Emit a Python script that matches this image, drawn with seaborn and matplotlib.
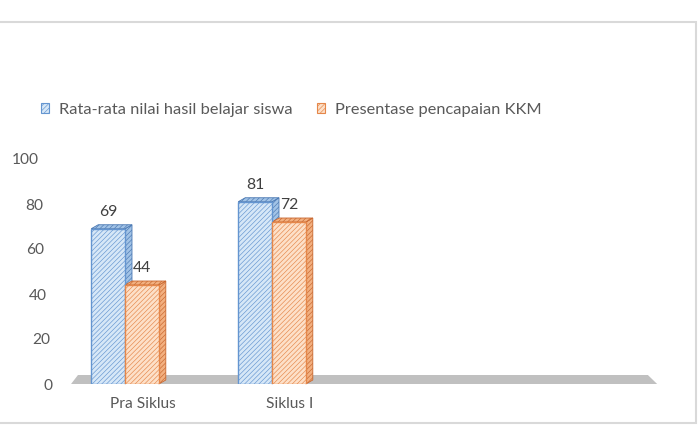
import numpy as np
import pandas as pd
import matplotlib
matplotlib.use("Agg")
import matplotlib.pyplot as plt
import matplotlib.transforms as mtransforms
from matplotlib.patches import Polygon, Patch, Rectangle
import seaborn as sns

# ---- data ----
categories = ["Pra Siklus", "Siklus I", "", " "]
series_names = ["Rata-rata nilai hasil belajar siswa", "Presentase pencapaian KKM"]
rata_rata = [69, 81]
presentase = [44, 72]
y_ticks = [0, 20, 40, 60, 80, 100]

sns.set_theme(style="white")
plt.rcParams['font.family'] = ['Lato', 'DejaVu Sans']
plt.rcParams['hatch.linewidth'] = 0.45

df = pd.DataFrame({
    "Kategori": categories[:2] * 2,
    "Seri": [series_names[0]] * 2 + [series_names[1]] * 2,
    "Nilai": rata_rata + presentase,
})

W, H = 700, 426
fig = plt.figure(figsize=(7, 4.26), dpi=100)
ax = fig.add_axes([51.5 / W, 42 / H, 588 / W, 225 / H])

face = {series_names[0]: "#d6e7f7", series_names[1]: "#fde0c8"}
edge = {series_names[0]: "#6495d0", series_names[1]: "#e5874a"}
side_face = {series_names[0]: "#a2c3e6", series_names[1]: "#f2b080"}
side_edge = {series_names[0]: "#4a78b3", series_names[1]: "#c8662e"}
text_color = "#595959"
HATCH = "///////"

sns.barplot(data=df, x="Kategori", y="Nilai", hue="Seri", order=categories,
            hue_order=series_names, palette=face, width=0.46, ax=ax,
            legend=False, saturation=1, zorder=3)

ax.set_xlim(-0.5, 3.5)
ax.set_ylim(0, 100)

px_x = 147.0          # pixels per category
px_y = 2.25           # pixels per value unit
dx = 7 / px_x
dy = 4 / px_y

for cont, name in zip(ax.containers, series_names):
    for bar in cont:
        h = bar.get_height()
        if not np.isfinite(h) or h == 0:
            continue
        x0 = bar.get_x()
        x1 = x0 + bar.get_width()
        bar.set_hatch(HATCH)
        bar.set_edgecolor(edge[name])
        bar.set_linewidth(1.0)
        side = Polygon([(x1, 0), (x1 + dx, dy), (x1 + dx, h + dy), (x1, h)],
                       closed=True, facecolor=side_face[name],
                       edgecolor=side_edge[name], hatch=HATCH, lw=0.6,
                       zorder=2.5, clip_on=False)
        top = Polygon([(x0, h), (x0 + dx, h + dy), (x1 + dx, h + dy), (x1, h)],
                      closed=True, facecolor=side_face[name],
                      edgecolor=side_edge[name], hatch=HATCH, lw=0.6,
                      zorder=2.5, clip_on=False)
        ax.add_patch(side)
        ax.add_patch(top)
        ax.annotate(f"{h:.0f}", ((x0 + x1) / 2, h), xytext=(0, 12),
                    textcoords="offset points", ha="center", va="center",
                    fontsize=11.3, color="#404040")

# floor
xl, xr = ax.get_xlim()
floor = Polygon([(xl + 0.133, 0), (xl + 0.18, 9 / px_y),
                 (xr + 0.057, 9 / px_y), (xr + 0.12, 0)],
                closed=True, facecolor="#c0c0c0", edgecolor="none",
                zorder=1, clip_on=False)
ax.add_patch(floor)

for s in ax.spines.values():
    s.set_visible(False)
ax.grid(False)
ax.set_xlabel("")
ax.set_ylabel("")
ax.set_yticks(y_ticks)
ax.set_yticklabels([str(t) for t in y_ticks])
ax.tick_params(axis="both", length=0, labelsize=11.2, labelcolor=text_color)
ax.tick_params(axis="y", pad=0)
ax.tick_params(axis="x", pad=9.5)

# tick label offsets (perspective look)
right_edges = [53, 50, 47, 44, 43, 39]
for lab, r in zip(ax.get_yticklabels(), right_edges):
    off = mtransforms.ScaledTranslation((r - 51.5) / 100, 0, fig.dpi_scale_trans)
    lab.set_transform(lab.get_transform() + off)
for lab in ax.get_xticklabels():
    off = mtransforms.ScaledTranslation(18 / 100, 0, fig.dpi_scale_trans)
    lab.set_transform(lab.get_transform() + off)

handles = [Patch(facecolor=face[n], edgecolor=edge[n], hatch=HATCH, lw=0.8)
           for n in series_names]
fig.legend(handles, series_names, loc="center left",
           bbox_to_anchor=(26 / W, 1 - 110 / H), ncol=2, frameon=False,
           handlelength=0.5, handleheight=0.6, handletextpad=0.6,
           columnspacing=1.5, fontsize=11.8, labelcolor=text_color)

fig.add_artist(Rectangle((-0.01, 3 / H), 696 / W + 0.01, (423 - 22) / H,
                         transform=fig.transFigure, fill=False,
                         edgecolor="#d9d9d9", lw=1.5))

fig.savefig("out.png", dpi=100)
